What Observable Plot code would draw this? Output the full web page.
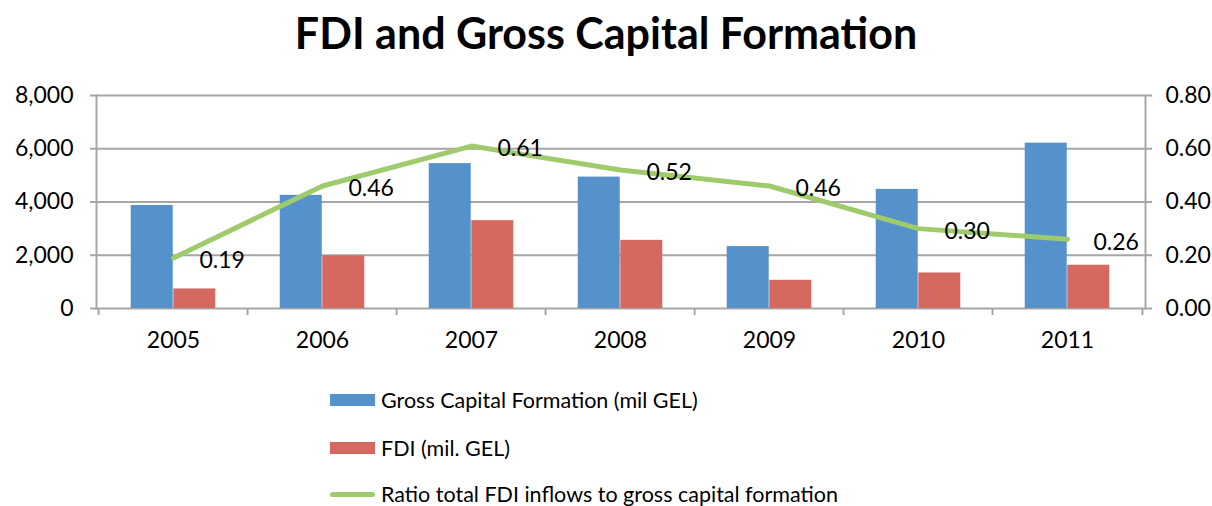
<!DOCTYPE html>
<html>
<head>
<meta charset="utf-8">
<script src="https://cdn.jsdelivr.net/npm/d3@7"></script>
<script src="https://cdn.jsdelivr.net/npm/@observablehq/plot@0.6"></script>
<style>
  html, body { margin: 0; padding: 0; background: #fff; }
  body { width: 1212px; height: 506px; position: relative; overflow: hidden; font-family: Lato, "Open Sans", sans-serif; color: #000; }
  #title { position: absolute; left: 0; top: 8px; width: 1212px; text-align: center; font-size: 43px; font-weight: 700; line-height: 50px; }
  #chart { position: absolute; left: 0; top: 70px; }
  .lg { position: absolute; left: 330px; height: 30px; display: flex; align-items: center; font-size: 21.5px; white-space: nowrap; }
  .sw { display: inline-block; width: 45px; height: 12px; margin-right: 6px; }
  .ln { display: inline-block; width: 45px; height: 5px; margin-right: 6px; border-radius: 3px; }
</style>
</head>
<body>
<div id="title">FDI and Gross Capital Formation</div>
<div id="chart"></div>
<div class="lg" style="top:385px"><span class="sw" style="background:#5591CB"></span>Gross Capital Formation (mil GEL)</div>
<div class="lg" style="top:433px"><span class="sw" style="background:#D6695F"></span>FDI (mil. GEL)</div>
<div class="lg" style="top:479px"><span class="ln" style="background:#9FCB6C"></span>Ratio total FDI inflows to gross capital formation</div>
<script>
const years = ["2005", "2006", "2007", "2008", "2009", "2010", "2011"];
const grossCapital = [3870, 4250, 5440, 4935, 2325, 4475, 6210];
const fdi = [735, 1975, 3300, 2560, 1060, 1335, 1625];
const ratio = [0.19, 0.46, 0.61, 0.52, 0.46, 0.30, 0.26];
const leftTicks = [0, 2000, 4000, 6000, 8000];
const rightTicks = [0, 0.2, 0.4, 0.6, 0.8];

const RATIO_SCALE = 10000; // right axis 0.80 aligns with 8,000
const colors = { gcf: "#5591CB", fdi: "#D6695F", ratio: "#9FCB6C", grid: "#A6A6A6" };

const W = 1212, H = 290, ML = 96, MR = 67, MT = 25, MB = 52;
const paddingInner = 0.716;
const step = (W - ML - MR) / years.length;
const bw = step * (1 - paddingInner);

const rows = years.map((y, i) => ({ year: y, gcf: grossCapital[i], fdi: fdi[i], ratio: ratio[i], r: ratio[i] * RATIO_SCALE }));

const chart = Plot.plot({
  width: W, height: H,
  marginLeft: ML, marginRight: MR, marginTop: MT, marginBottom: MB,
  style: { fontFamily: "Lato, 'Open Sans', sans-serif", fontSize: "23px", color: "#000", background: "transparent" },
  x: { type: "band", domain: years, paddingInner, paddingOuter: paddingInner / 2, align: 0.5, axis: null },
  y: { domain: [0, 8000], axis: null },
  marks: [
    Plot.ruleY(leftTicks, { stroke: colors.grid, strokeWidth: 2 }),
    Plot.frame({ anchor: "left", stroke: colors.grid, strokeWidth: 2 }),
    Plot.frame({ anchor: "right", stroke: colors.grid, strokeWidth: 2 }),
    Plot.axisY({ anchor: "left", ticks: leftTicks, tickFormat: d3.format(","), tickSize: 6, tickPadding: 17, fontSize: 23, stroke: colors.grid, strokeWidth: 2, fill: "#000", label: null }),
    Plot.axisY({ anchor: "right", ticks: rightTicks.map(r => r * RATIO_SCALE), tickFormat: d => (d / RATIO_SCALE).toFixed(2), tickSize: 6, tickPadding: 14, fontSize: 23, stroke: colors.grid, strokeWidth: 2, fill: "#000", label: null }),
    Plot.axisX({ ticks: years, tickSize: 7, text: null, dx: -step / 2, stroke: colors.grid, strokeWidth: 2, label: null }),
    Plot.axisX({ ticks: [years[years.length - 1]], tickSize: 7, text: null, dx: step / 2, stroke: colors.grid, strokeWidth: 2, label: null }),
    Plot.axisX({ ticks: years, tickSize: 0, tickPadding: 23, fontSize: 23, fill: "#000", label: null }),
    Plot.barY(rows, { x: "year", y: "gcf", fill: colors.gcf, dx: -bw / 2 }),
    Plot.barY(rows, { x: "year", y: "fdi", fill: colors.fdi, dx: bw / 2 }),
    Plot.line(rows, { x: "year", y: "r", stroke: colors.ratio, strokeWidth: 5, strokeLinecap: "round", strokeLinejoin: "round" }),
    Plot.text(rows, { x: "year", y: "r", text: d => d.ratio.toFixed(2), textAnchor: "start", dx: 26, dy: 3, fontSize: 23, fill: "#000" })
  ]
});
document.getElementById("chart").append(chart);
</script>
</body>
</html>
